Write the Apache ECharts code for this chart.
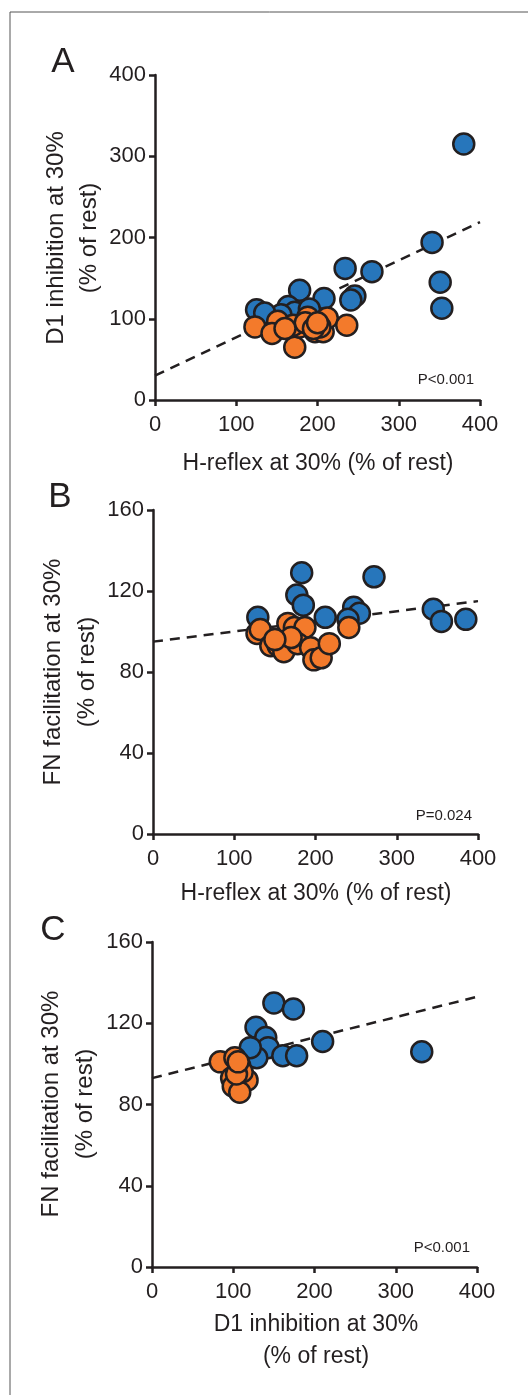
<!DOCTYPE html>
<html><head><meta charset="utf-8">
<script src="https://cdn.jsdelivr.net/npm/echarts@6/dist/echarts.min.js"></script>
<style>html,body{margin:0;padding:0;background:#fff}#c{width:528px;height:1395px}</style>
</head><body><div id="c"></div>
<script>
// Panel A: H-reflex (x) vs D1 inhibition (y)
const aBlue = [[380,315],[341,194],[351,145],[353,113],[234,162],[267,158],[246,128],[241,123],[178,135],[208,125],[125,111],[164,115],[172,108],[190,112],[155,105],[135,107]];
const aOrange = [[123,90],[151,97],[144,82],[172,65],[188,102],[178,90],[197,84],[207,84],[212,101],[236,92],[203,90],[170,92],[185,95],[160,88],[195,88],[200,95]];
const aFit = [[0,30],[400,219]];
// Panel B: H-reflex (x) vs FN facilitation (y)
const bBlue = [[183,129],[272,127],[177,118],[185,113],[129,107],[212,107],[247,112],[254,109],[240,106],[345,111],[355,105],[385,106]];
const bOrange = [[128,99],[132,101],[145,93],[154,93],[166,104],[174,102],[187,102],[161,90],[178,94],[194,92],[198,86],[207,87],[217,94],[241,102],[170,97],[150,96]];
const bFit = [[0,95],[400,115]];
// Panel C: D1 inhibition (x) vs FN facilitation (y)
const cBlue = [[150,130],[174,127],[128,118],[140,113],[143,108],[210,111],[161,104],[178,104],[129,103],[121,108],[332,106]];
const cOrange = [[84,101],[102,103],[108,99],[98,93],[117,92],[100,89],[108,86],[111,96],[104,95],[106,101]];
const cFit = [[0,93],[400,133]];

const xTicks = [0,100,200,300,400];
const yTicksA = [0,100,200,300,400];
const yTicksBC = [0,40,80,120,160];

const BLUE = '#2776bb', ORANGE = '#f37a2b', INK = '#231f20';
const FONT = 'Liberation Sans, Arial, sans-serif';

const grids = [
  {left:155, top:75, width:325, height:325},
  {left:153, top:510, width:325, height:324},
  {left:152, top:942, width:325, height:325}
];
function xAx(i){return {gridIndex:i,type:'value',min:xTicks[0],max:xTicks[xTicks.length-1],interval:xTicks[1]-xTicks[0],
  axisLine:{lineStyle:{color:INK,width:2.5}},axisTick:{length:6,lineStyle:{color:INK,width:2.5}},
  axisLabel:{color:'#231f20',fontSize:22,fontFamily:FONT,margin:14},splitLine:{show:false}};}
function yAx(i,t){return {gridIndex:i,type:'value',min:t[0],max:t[t.length-1],interval:t[1]-t[0],
  axisLine:{show:true,lineStyle:{color:INK,width:2.5}},axisTick:{show:true,length:6,lineStyle:{color:INK,width:2.5}},
  axisLabel:{color:'#231f20',fontSize:22,fontFamily:FONT,margin:9},splitLine:{show:false}};}
function sc(i,d,col){return {type:'scatter',xAxisIndex:i,yAxisIndex:i,data:d,symbolSize:21,
  itemStyle:{color:col,borderColor:INK,borderWidth:2.5,opacity:1},z:3};}
function fit(i,d){return {type:'line',xAxisIndex:i,yAxisIndex:i,data:d,symbol:'none',
  lineStyle:{color:INK,width:2.5,type:[10,7]},z:2};}
function txt(x,y,t,size,rot){return {type:'text',x:x,y:y,rotation:rot||0,style:{text:t,fill:'#231f20',font:size+'px '+FONT,textAlign:'center',textVerticalAlign:'middle'}};}

const chart = echarts.init(document.getElementById('c'),null,{renderer:'canvas'});
chart.setOption({
  animation:false,
  grid:grids,
  xAxis:[xAx(0),xAx(1),xAx(2)],
  yAxis:[yAx(0,yTicksA),yAx(1,yTicksBC),yAx(2,yTicksBC)],
  series:[fit(0,aFit),sc(0,aBlue,BLUE),sc(0,aOrange,ORANGE),
          fit(1,bFit),sc(1,bBlue,BLUE),sc(1,bOrange,ORANGE),
          fit(2,cFit),sc(2,cBlue,BLUE),sc(2,cOrange,ORANGE)],
  graphic:[
    {type:'rect',shape:{x:10,y:12,width:530,height:1395},style:{fill:'none',stroke:'#555',lineWidth:1},silent:true},
    txt(63,62,'A',35), txt(60,497,'B',35), txt(53,930,'C',35),
    txt(56,238,'D1 inhibition at 30%',24,Math.PI/2), txt(89,238,'(% of rest)',24,Math.PI/2),
    txt(53,672,'FN facilitation at 30%',24,Math.PI/2), txt(87,672,'(% of rest)',24,Math.PI/2),
    txt(51,1104,'FN facilitation at 30%',24,Math.PI/2), txt(85,1104,'(% of rest)',24,Math.PI/2),
    txt(318,464,'H-reflex at 30% (% of rest)',23),
    txt(316,894,'H-reflex at 30% (% of rest)',23),
    txt(316,1325,'D1 inhibition at 30%',23), txt(316,1357,'(% of rest)',23),
    {type:'text',x:474,y:380,style:{text:'P<0.001',fill:'#231f20',font:'15px '+FONT,textAlign:'right',textVerticalAlign:'middle'}},
    {type:'text',x:472,y:816,style:{text:'P=0.024',fill:'#231f20',font:'15px '+FONT,textAlign:'right',textVerticalAlign:'middle'}},
    {type:'text',x:470,y:1248,style:{text:'P<0.001',fill:'#231f20',font:'15px '+FONT,textAlign:'right',textVerticalAlign:'middle'}}
  ]
});
</script></body></html>
